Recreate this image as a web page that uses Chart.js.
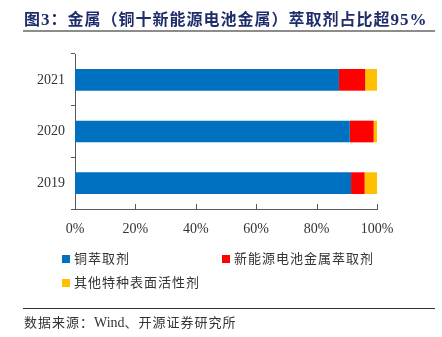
<!DOCTYPE html>
<html>
<head>
<meta charset="utf-8">
<script src="https://cdn.jsdelivr.net/npm/chart.js@4.4.1/dist/chart.umd.min.js"></script>
<style>
  html, body { margin: 0; padding: 0; background: #fff; }
  #wrap { position: relative; width: 442px; height: 337px; overflow: hidden; }
  #energyChart { position: absolute; left: 0; top: 0; }
  .title {
    position: absolute; left: 24px; top: 6px; white-space: nowrap;
    font: bold 16px "Noto Sans CJK SC", sans-serif; color: #1f2d6b; letter-spacing: 1px;
  }
  .title .num { font-family: "Liberation Serif", serif; font-size: 17px; }
  .rule-top { position: absolute; left: 23px; top: 30px; width: 412px; height: 2px; background: #8c8c8c; }
  .rule-bot { position: absolute; left: 23px; top: 308px; width: 412px; height: 1px; background: #333; }
  .source {
    position: absolute; left: 24px; top: 312px; white-space: nowrap;
    font: 13px "Noto Sans CJK SC", sans-serif; color: #333; letter-spacing: 1px;
  }
  .source .lat { font-family: "Liberation Serif", serif; font-size: 14px; letter-spacing: 0; }
  .legend { position: absolute; left: 0; top: 0; }
  .lgItem {
    position: absolute; white-space: nowrap;
    font: 13px "Noto Sans CJK SC", sans-serif; color: #333; letter-spacing: 1px;
    line-height: 16px;
  }
  .lgItem i { display: inline-block; width: 8px; height: 8px; margin-right: 4px; vertical-align: 0px; }
</style>
</head>
<body>
<div id="wrap">
  <canvas id="energyChart" width="442" height="337"></canvas>
  <div class="title">图<span class="num">3</span>：金属（铜十新能源电池金属）萃取剂占比超<span class="num">95%</span></div>
  <div class="rule-top"></div>
  <div class="legend" id="legend"></div>
  <div class="rule-bot"></div>
  <div class="source">数据来源：<span class="lat">Wind</span>、开源证券研究所</div>
</div>
<script>
// 年份（自上而下）
const years = ['2021', '2020', '2019'];

// 各类萃取剂占比（%）
const copper = [87.4, 91.0, 91.4];
const battery = [8.7, 7.9, 4.5];
const others = [3.9, 1.1, 4.1];

const seriesNames = ['铜萃取剂', '新能源电池金属萃取剂', '其他特种表面活性剂'];
const seriesColors = ['#0070c0', '#ff0000', '#ffc000'];

const xTicks = [0, 20, 40, 60, 80, 100];

const axisColor = '#595959';

// x轴刻度线朝内画
const innerTicks = {
  id: 'innerTicks',
  afterDraw(chart) {
    const x = chart.scales.x;
    const c = chart.ctx;
    c.save();
    c.strokeStyle = axisColor;
    c.lineWidth = 1;
    x.ticks.forEach(t => {
      if (t.value === 0) return;
      const px = Math.round(x.getPixelForValue(t.value)) + 0.5;
      c.beginPath();
      c.moveTo(px, x.top);
      c.lineTo(px, x.top - 5);
      c.stroke();
    });
    c.restore();
  }
};

const ctx = document.getElementById('energyChart').getContext('2d');

const myChart = new Chart(ctx, {
  type: 'bar',
  data: {
    labels: years,
    datasets: [copper, battery, others].map((d, i) => ({
      label: seriesNames[i],
      data: d,
      backgroundColor: seriesColors[i],
      borderWidth: 0,
      barPercentage: 0.42,
      categoryPercentage: 1
    }))
  },
  options: {
    indexAxis: 'y',
    responsive: false,
    devicePixelRatio: 1,
    animation: false,
    layout: { padding: { left: 0, right: 65, top: 54, bottom: 0 } },
    plugins: {
      legend: { display: false },
      tooltip: { enabled: false }
    },
    scales: {
      x: {
        stacked: true,
        min: 0,
        max: 100,
        afterBuildTicks: s => { s.ticks = xTicks.map(v => ({ value: v })); },
        afterFit: s => { s.height = 128; },
        grid: { display: false },
        border: { display: true, color: axisColor, width: 1 },
        ticks: {
          padding: 4,
          color: '#333',
          font: { family: 'Liberation Serif', size: 14 },
          callback: v => v + '%'
        }
      },
      y: {
        stacked: true,
        afterFit: s => { s.width = 75; },
        grid: {
          display: true,
          drawOnChartArea: false,
          offset: true,
          tickLength: 4,
          color: axisColor
        },
        border: { display: true, color: axisColor, width: 1 },
        ticks: {
          padding: 6,
          color: '#333',
          font: { family: 'Liberation Serif', size: 14 }
        }
      }
    }
  },
  plugins: [innerTicks]
});

// 图例
const legendPos = [[62, 250], [222, 250], [62, 274]];
const legendBox = document.getElementById('legend');
myChart.data.datasets.forEach((ds, i) => {
  const item = document.createElement('div');
  item.className = 'lgItem';
  item.style.left = legendPos[i][0] + 'px';
  item.style.top = legendPos[i][1] + 'px';
  item.innerHTML = '<i style="background:' + ds.backgroundColor + '"></i>' + ds.label;
  legendBox.appendChild(item);
});
</script>
</body>
</html>
